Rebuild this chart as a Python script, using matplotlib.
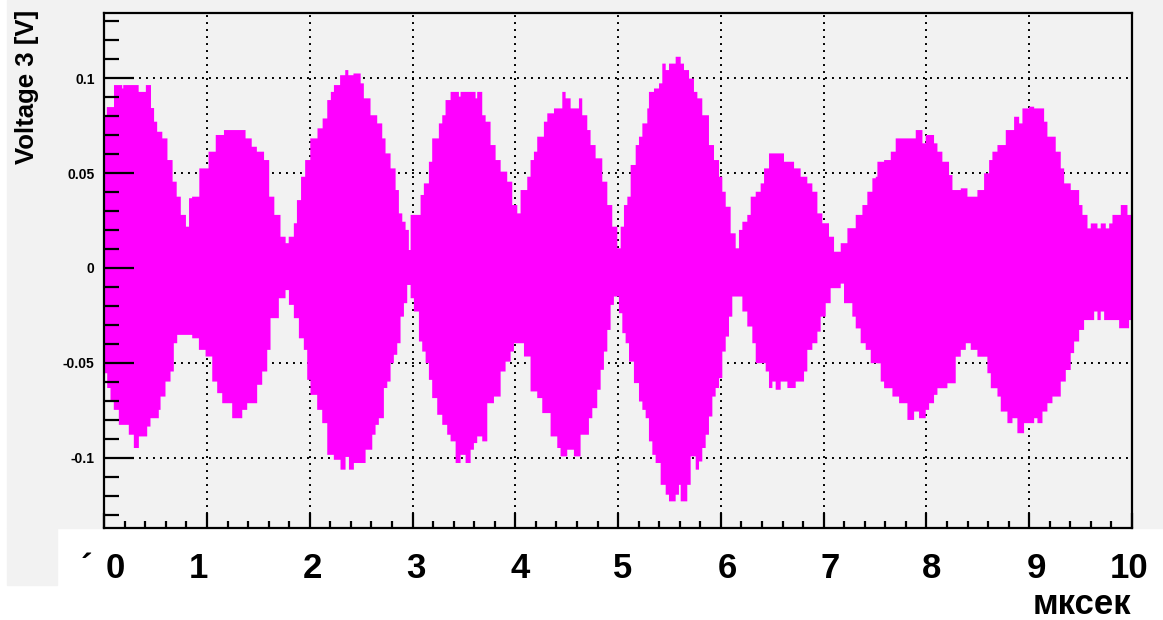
import numpy as np
import matplotlib
matplotlib.use("Agg")
import matplotlib.pyplot as plt
from matplotlib.patches import Rectangle
from matplotlib.ticker import MultipleLocator

# Upper envelope of the burst signal: step start times [us] and levels [V]
upper_t = [0.00, 0.02, 0.09, 0.17, 0.18, 0.33, 0.40, 0.45, 0.48, 0.51,
           0.56, 0.61, 0.66, 0.70, 0.74, 0.79, 0.82, 0.85, 0.92, 1.01,
           1.08, 1.16, 1.37, 1.43, 1.48, 1.55, 1.60, 1.65, 1.71, 1.76,
           1.79, 1.84, 1.87, 1.91, 1.95, 2.00, 2.07, 2.12, 2.165, 2.20,
           2.23, 2.29, 2.34, 2.37, 2.42, 2.49, 2.521, 2.586, 2.651, 2.700,
           2.732, 2.781, 2.830, 2.862, 2.895, 2.927, 2.959, 2.976, 3.073, 3.105,
           3.154, 3.186, 3.251, 3.284, 3.316, 3.365, 3.446, 3.462, 3.608, 3.624,
           3.673, 3.706, 3.754, 3.803, 3.852, 3.916, 3.965, 4.014, 4.046, 4.111,
           4.143, 4.176, 4.208, 4.273, 4.306, 4.371, 4.452, 4.484, 4.533, 4.614,
           4.646, 4.695, 4.727, 4.776, 4.841, 4.890, 4.938, 4.987, 5.020, 5.052,
           5.085, 5.117, 5.166, 5.198, 5.231, 5.279, 5.295, 5.344, 5.393, 5.425,
           5.458, 5.490, 5.555, 5.604, 5.636, 5.685, 5.733, 5.766, 5.814, 5.879,
           5.928, 5.977, 6.009, 6.042, 6.090, 6.139, 6.171, 6.204, 6.252, 6.285,
           6.334, 6.382, 6.415, 6.463, 6.609, 6.707, 6.771, 6.836, 6.885, 6.934,
           6.982, 7.047, 7.096, 7.161, 7.226, 7.307, 7.372, 7.420, 7.469, 7.502,
           7.518, 7.583, 7.648, 7.696, 7.891, 7.956, 7.988, 8.069, 8.102, 8.150,
           8.215, 8.248, 8.329, 8.394, 8.491, 8.556, 8.605, 8.637, 8.686, 8.767,
           8.848, 8.897, 8.929, 8.994, 9.043, 9.140, 9.172, 9.253, 9.302, 9.335,
           9.399, 9.481, 9.513, 9.562, 9.594, 9.659, 9.691, 9.740, 9.773, 9.805,
           9.886, 9.951]
upper_v = [0.0800, 0.0850, 0.0966, 0.0948, 0.0966, 0.0930, 0.0966, 0.0845, 0.0773, 0.0720,
           0.0685, 0.0571, 0.0457, 0.0378, 0.0282, 0.0220, 0.0370, 0.0378, 0.0527, 0.0615,
           0.0703, 0.0729, 0.0685, 0.0641, 0.0615, 0.0571, 0.0378, 0.0282, 0.0167, 0.0133,
           0.0167, 0.0238, 0.0360, 0.0483, 0.0571, 0.0685, 0.0738, 0.0790, 0.0887, 0.0930,
           0.0966, 0.1018, 0.1045, 0.1018, 0.1027, 0.0975, 0.0896, 0.0807, 0.0764, 0.0685,
           0.0606, 0.0527, 0.0413, 0.0290, 0.0246, 0.0203, 0.0097, 0.0282, 0.0387, 0.0448,
           0.0562, 0.0685, 0.0764, 0.0807, 0.0887, 0.0930, 0.0905, 0.0930, 0.0896, 0.0930,
           0.0807, 0.0773, 0.0650, 0.0571, 0.0510, 0.0457, 0.0334, 0.0290, 0.0413, 0.0483,
           0.0571, 0.0615, 0.0694, 0.0773, 0.0817, 0.0843, 0.0930, 0.0896, 0.0843, 0.0896,
           0.0807, 0.0729, 0.0650, 0.0580, 0.0457, 0.0334, 0.0220, 0.0106, 0.0220, 0.0334,
           0.0378, 0.0545, 0.0650, 0.0694, 0.0764, 0.0843, 0.0930, 0.0948, 0.0975, 0.1079,
           0.1045, 0.1079, 0.1115, 0.1079, 0.1045, 0.1000, 0.0930, 0.0896, 0.0807, 0.0650,
           0.0571, 0.0483, 0.0404, 0.0325, 0.0185, 0.0106, 0.0203, 0.0246, 0.0282, 0.0378,
           0.0404, 0.0448, 0.0527, 0.0606, 0.0562, 0.0527, 0.0483, 0.0448, 0.0404, 0.0290,
           0.0238, 0.0167, 0.0088, 0.0133, 0.0212, 0.0282, 0.0334, 0.0404, 0.0475, 0.0483,
           0.0562, 0.0571, 0.0615, 0.0685, 0.0729, 0.0659, 0.0703, 0.0659, 0.0615, 0.0562,
           0.0492, 0.0413, 0.0422, 0.0378, 0.0413, 0.0501, 0.0571, 0.0615, 0.0650, 0.0729,
           0.0799, 0.0764, 0.0843, 0.0852, 0.0843, 0.0773, 0.0694, 0.0615, 0.0527, 0.0448,
           0.0413, 0.0334, 0.0282, 0.0211, 0.0237, 0.0211, 0.0237, 0.0211, 0.0237, 0.0282,
           0.0334, 0.0282]

# Lower envelope of the burst signal
lower_t = [0.000, 0.024, 0.056, 0.088, 0.137, 0.234, 0.283, 0.332, 0.413, 0.445,
           0.526, 0.543, 0.591, 0.640, 0.672, 0.705, 0.851, 0.916, 0.981, 1.046,
           1.094, 1.143, 1.240, 1.338, 1.386, 1.483, 1.532, 1.581, 1.613, 1.694,
           1.759, 1.792, 1.840, 1.889, 1.937, 1.970, 2.002, 2.067, 2.116, 2.165,
           2.229, 2.294, 2.343, 2.376, 2.424, 2.489, 2.538, 2.603, 2.635, 2.667,
           2.716, 2.749, 2.781, 2.813, 2.846, 2.878, 2.911, 2.943, 2.976, 3.008,
           3.057, 3.089, 3.122, 3.154, 3.186, 3.235, 3.284, 3.332, 3.365, 3.414,
           3.462, 3.511, 3.560, 3.592, 3.624, 3.673, 3.722, 3.787, 3.852, 3.900,
           3.949, 3.981, 4.079, 4.143, 4.208, 4.257, 4.338, 4.403, 4.435, 4.500,
           4.565, 4.630, 4.711, 4.744, 4.792, 4.825, 4.857, 4.890, 4.922, 4.954,
           5.003, 5.036, 5.068, 5.101, 5.149, 5.198, 5.231, 5.263, 5.295, 5.328,
           5.360, 5.409, 5.458, 5.490, 5.555, 5.587, 5.604, 5.668, 5.701, 5.750,
           5.782, 5.814, 5.847, 5.879, 5.912, 5.944, 5.977, 6.009, 6.042, 6.074,
           6.106, 6.204, 6.252, 6.301, 6.334, 6.431, 6.463, 6.496, 6.528, 6.577,
           6.642, 6.723, 6.804, 6.836, 6.885, 6.934, 6.966, 7.015, 7.063, 7.161,
           7.193, 7.274, 7.307, 7.355, 7.404, 7.453, 7.518, 7.550, 7.583, 7.664,
           7.729, 7.810, 7.875, 7.923, 7.988, 8.021, 8.069, 8.102, 8.199, 8.280,
           8.329, 8.378, 8.426, 8.491, 8.588, 8.621, 8.686, 8.718, 8.783, 8.832,
           8.880, 8.945, 9.043, 9.075, 9.124, 9.172, 9.221, 9.302, 9.351, 9.399,
           9.432, 9.481, 9.529, 9.627, 9.659, 9.691, 9.724, 9.870, 9.967]
lower_v = [-0.0552, -0.0630, -0.0700, -0.0745, -0.0824, -0.0876, -0.0946, -0.0885, -0.0833, -0.0789,
           -0.0745, -0.0675, -0.0596, -0.0543, -0.0394, -0.0350, -0.0368, -0.0429, -0.0464, -0.0596,
           -0.0657, -0.0710, -0.0789, -0.0745, -0.0710, -0.0613, -0.0543, -0.0429, -0.0262, -0.0157,
           -0.0114, -0.0192, -0.0262, -0.0368, -0.0429, -0.0587, -0.0666, -0.0745, -0.0815, -0.0982,
           -0.1008, -0.1060, -0.0993, -0.1060, -0.1025, -0.1025, -0.0955, -0.0876, -0.0824, -0.0789,
           -0.0630, -0.0596, -0.0499, -0.0455, -0.0394, -0.0254, -0.0183, -0.0087, -0.0157, -0.0227,
           -0.0385, -0.0438, -0.0499, -0.0587, -0.0683, -0.0771, -0.0824, -0.0876, -0.0911, -0.1025,
           -0.0982, -0.1025, -0.0955, -0.0920, -0.0885, -0.0911, -0.0710, -0.0675, -0.0543, -0.0491,
           -0.0438, -0.0394, -0.0464, -0.0648, -0.0683, -0.0762, -0.0885, -0.0946, -0.0990, -0.0955,
           -0.0990, -0.0876, -0.0789, -0.0736, -0.0639, -0.0534, -0.0438, -0.0324, -0.0192, -0.0148,
           -0.0236, -0.0341, -0.0394, -0.0491, -0.0604, -0.0701, -0.0745, -0.0789, -0.0911, -0.0982,
           -0.1025, -0.1140, -0.1192, -0.1227, -0.1192, -0.1140, -0.1227, -0.1140, -0.0990, -0.1060,
           -0.1017, -0.0946, -0.0876, -0.0780, -0.0675, -0.0630, -0.0578, -0.0438, -0.0359, -0.0254,
           -0.0148, -0.0227, -0.0306, -0.0394, -0.0499, -0.0543, -0.0630, -0.0596, -0.0639, -0.0596,
           -0.0630, -0.0596, -0.0543, -0.0429, -0.0394, -0.0333, -0.0254, -0.0183, -0.0104, -0.0080,
           -0.0183, -0.0254, -0.0316, -0.0394, -0.0429, -0.0499, -0.0500, -0.0596, -0.0631, -0.0675,
           -0.0710, -0.0798, -0.0754, -0.0789, -0.0745, -0.0710, -0.0666, -0.0631, -0.0605, -0.0465,
           -0.0429, -0.0394, -0.0429, -0.0465, -0.0552, -0.0631, -0.0675, -0.0754, -0.0815, -0.0789,
           -0.0868, -0.0815, -0.0789, -0.0815, -0.0754, -0.0710, -0.0675, -0.0596, -0.0535, -0.0446,
           -0.0385, -0.0324, -0.0272, -0.0227, -0.0272, -0.0227, -0.0272, -0.0315, -0.0272]

t_end = 10.0
y_ticks = [-0.1, -0.05, 0.0, 0.05, 0.1]
y_tick_labels = ['-0.1', '-0.05', '0', '0.05', '0.1']
x_values = list(range(11))
x_unit = 'мксек'
y_title = 'Voltage 3 [V]'

W, H = 1163, 620
bg = '#f2f2f2'
magenta = '#ff00ff'

fig = plt.figure(figsize=(W / 100, H / 100), dpi=100, facecolor='white')

# grey pad behind the frame, with a white strip at the bottom
fig.patches.append(Rectangle((7 / W, 1 - 528 / H), 1 - 7 / W, 528 / H,
                             transform=fig.transFigure, color=bg, zorder=-10))
fig.patches.append(Rectangle((7 / W, 1 - 585 / H), 50 / W, 57 / H,
                             transform=fig.transFigure, color=bg, zorder=-10))

ax = fig.add_axes([104.25 / W, 1 - 528 / H, (1132 - 104.25) / W, (528 - 13) / H])
ax.set_facecolor(bg)
ax.set_xlim(0, t_end)
ax.set_ylim(-0.137, 0.1343)

# combine both step envelopes on a common time grid
edges = np.union1d(np.array(upper_t), np.array(lower_t))
edges = np.append(edges, t_end)
up_idx = np.searchsorted(upper_t, edges, side='right') - 1
lo_idx = np.searchsorted(lower_t, edges, side='right') - 1
up = np.array(upper_v)[up_idx]
lo = np.array(lower_v)[lo_idx]
ax.fill_between(edges, lo, up, step='post', color=magenta, linewidth=0, zorder=1)

# dotted grid under the signal
dots = (0, (1, 2.6))
for gx in range(1, 10):
    ax.axvline(gx, color='black', lw=1.4, ls=dots, zorder=0.5)
for gy in [-0.1, -0.05, 0.05, 0.1]:
    ax.axhline(gy, color='black', lw=1.4, ls=dots, zorder=0.5)

for s in ax.spines.values():
    s.set_linewidth(1.6)
    s.set_zorder(3)

ax.set_yticks(y_ticks)
ax.set_yticklabels(y_tick_labels)
ax.yaxis.set_minor_locator(MultipleLocator(0.01))
ax.xaxis.set_major_locator(MultipleLocator(1))
ax.xaxis.set_minor_locator(MultipleLocator(0.2))
ax.set_xticklabels([])
ax.tick_params(axis='y', which='major', direction='in', length=21.6, width=1.6, pad=7,
               labelsize=10)
ax.tick_params(axis='y', which='minor', direction='in', length=10.8, width=1.6)
ax.tick_params(axis='x', which='major', direction='in', length=10.8, width=1.6)
ax.tick_params(axis='x', which='minor', direction='in', length=5.4, width=1.6)
for lab in ax.get_yticklabels():
    lab.set_fontweight('bold')
    lab.set_family('Liberation Sans')

fig.text(27 / W, 1 - 10 / H, y_title, rotation=90, ha='center', va='top',
         fontsize=18.5, fontweight='bold', family='Liberation Sans')

# large axis numbers under the frame
label_px = [115, 198, 312.5, 416, 520, 623, 727, 830, 932, 1036, 1129]
for v, px in zip(x_values, label_px):
    fig.text(px / W, 1 - 578 / H, str(v), ha='center', va='baseline',
             fontsize=25, fontweight='bold', family='Liberation Sans')
fig.text(86 / W, 1 - 578 / H, '´', ha='center', va='baseline',
         fontsize=25, fontweight='bold', family='Liberation Sans')
fig.text(1082 / W, 1 - 614 / H, x_unit, ha='center', va='baseline',
         fontsize=25, fontweight='bold', family='Liberation Sans')

fig.savefig('out.png', dpi=100, facecolor=fig.get_facecolor())
